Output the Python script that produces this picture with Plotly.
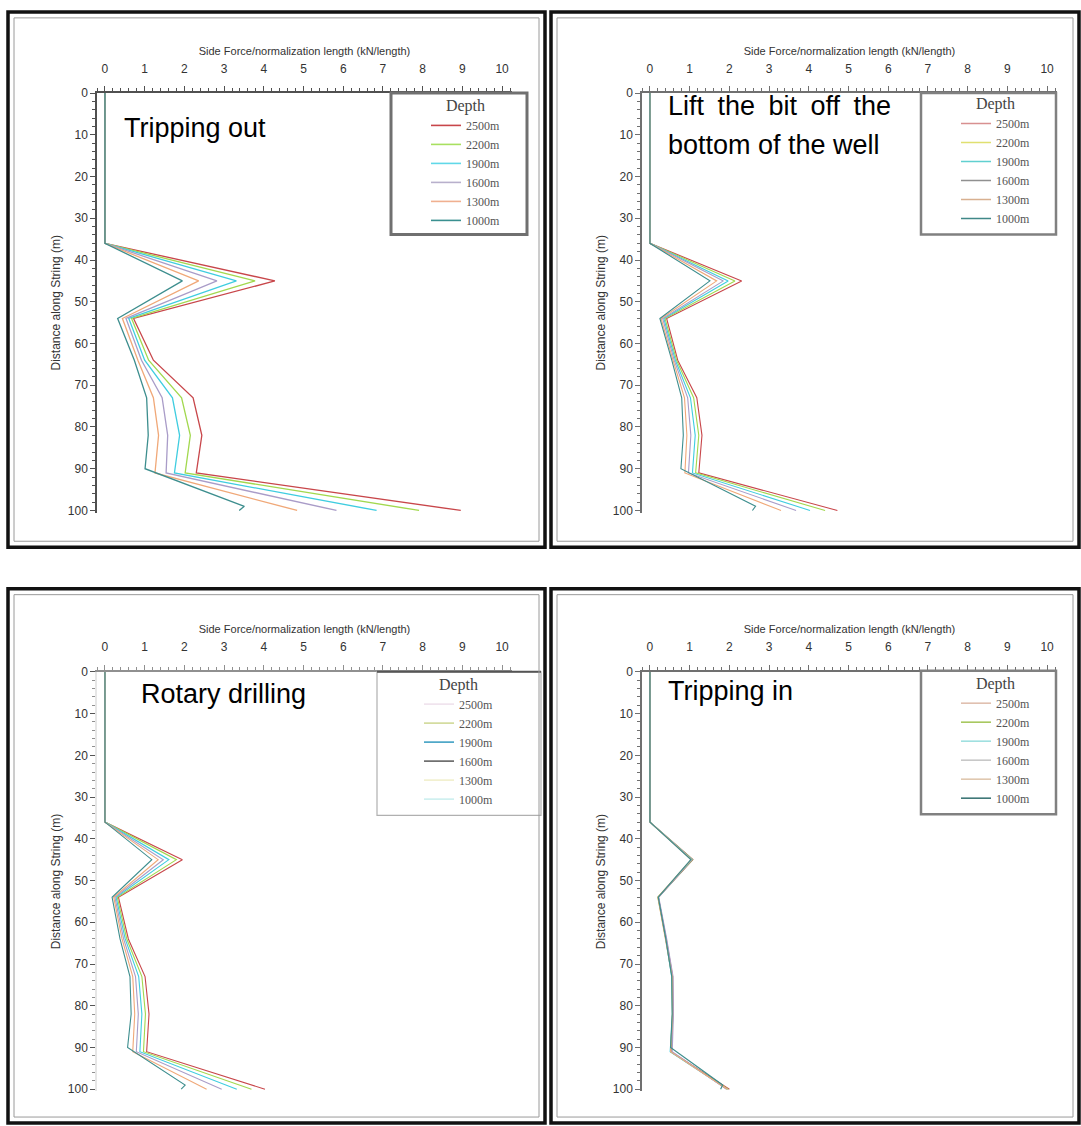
import plotly.graph_objects as go

W, H = 1081, 1126

# ---------------- data ----------------
DEPTH_LABELS = ["2500m", "2200m", "1900m", "1600m", "1300m", "1000m"]
X_TICKS = list(range(0, 11))
Y_TICKS = list(range(0, 101, 10))

# distance along string (m) of the polyline vertices
Y_MAIN = [0, 36, 45, 54, 64, 73, 82, 91, 100]
Y_HOOK = [0, 36, 45, 54, 64, 73, 82, 90, 99, 100]

# Tripping out
TRIP_OUT_2500 = [0, 0, 4.28, 0.72, 1.22, 2.22, 2.44, 2.30, 8.96]
TRIP_OUT_2200 = [0, 0, 3.78, 0.67, 1.10, 1.93, 2.15, 2.02, 7.91]
TRIP_OUT_1900 = [0, 0, 3.31, 0.60, 1.00, 1.70, 1.88, 1.75, 6.84]
TRIP_OUT_1600 = [0, 0, 2.82, 0.53, 0.92, 1.44, 1.58, 1.54, 5.83]
TRIP_OUT_1300 = [0, 0, 2.36, 0.44, 0.83, 1.22, 1.35, 1.26, 4.84]
TRIP_OUT_1000 = [0, 0, 1.95, 0.32, 0.74, 1.05, 1.09, 1.01, 3.51, 3.38]

# Lift the bit off the bottom of the well
LIFT_2500 = [0, 0, 2.31, 0.42, 0.70, 1.18, 1.31, 1.23, 4.72]
LIFT_2200 = [0, 0, 2.14, 0.38, 0.67, 1.10, 1.23, 1.15, 4.41]
LIFT_1900 = [0, 0, 1.97, 0.35, 0.64, 1.02, 1.14, 1.07, 4.03]
LIFT_1600 = [0, 0, 1.85, 0.32, 0.61, 0.95, 1.03, 0.97, 3.68]
LIFT_1300 = [0, 0, 1.68, 0.28, 0.58, 0.87, 0.93, 0.88, 3.30]
LIFT_1000 = [0, 0, 1.51, 0.25, 0.55, 0.80, 0.84, 0.78, 2.66, 2.58]

# Rotary drilling
ROTARY_2500 = [0, 0, 1.95, 0.34, 0.59, 1.01, 1.11, 1.05, 4.03]
ROTARY_2200 = [0, 0, 1.80, 0.31, 0.55, 0.93, 1.02, 0.97, 3.69]
ROTARY_1900 = [0, 0, 1.61, 0.28, 0.51, 0.85, 0.93, 0.88, 3.32]
ROTARY_1600 = [0, 0, 1.47, 0.25, 0.47, 0.77, 0.84, 0.79, 2.94]
ROTARY_1300 = [0, 0, 1.34, 0.22, 0.43, 0.70, 0.75, 0.70, 2.56]
ROTARY_1000 = [0, 0, 1.18, 0.18, 0.38, 0.63, 0.66, 0.57, 2.02, 1.92]

# Tripping in
TRIP_IN_2500 = [0, 0, 1.08, 0.21, 0.41, 0.57, 0.58, 0.53, 2.00]
TRIP_IN_2200 = [0, 0, 1.07, 0.20, 0.40, 0.56, 0.57, 0.52, 1.97]
TRIP_IN_1900 = [0, 0, 1.06, 0.21, 0.40, 0.55, 0.57, 0.51, 1.95]
TRIP_IN_1600 = [0, 0, 1.05, 0.22, 0.42, 0.58, 0.59, 0.56, 1.93]
TRIP_IN_1300 = [0, 0, 1.04, 0.20, 0.39, 0.56, 0.57, 0.52, 1.95]
TRIP_IN_1000 = [0, 0, 1.03, 0.21, 0.40, 0.55, 0.56, 0.52, 1.83, 1.78]

X_TITLE = "Side Force/normalization length (kN/length)"
Y_TITLE = "Distance along String (m)"

# ---------------- styles ----------------
LINE_COLORS = ["#c8464a", "#a2d84e", "#3fcde0", "#a99cc8", "#f0a878", "#3d8e8e"]

PANELS = [
    dict(series=[TRIP_OUT_2500, TRIP_OUT_2200, TRIP_OUT_1900, TRIP_OUT_1600, TRIP_OUT_1300, TRIP_OUT_1000],
         x0=97, y0=87, axcol="#505050", lw=1.3,
         leg_colors=["#c8464a", "#a8e060", "#60d8e8", "#b8b0cc", "#f0b090", "#3a9090"],
         leg_left=426, leg_top=84, box=(391, 87, 527, 230), boxcol="#707070", boxw=3,
         frame=(8, 5, 545, 546)),
    dict(series=[LIFT_2500, LIFT_2200, LIFT_1900, LIFT_1600, LIFT_1300, LIFT_1000],
         x0=642, y0=87, axcol="#707070", lw=1.1,
         leg_colors=["#d89090", "#e0e070", "#60d0d0", "#909090", "#d8b090", "#408888"],
         leg_left=956, leg_top=82, box=(921, 87, 1056, 230), boxcol="#808080", boxw=2.5,
         frame=(551, 5, 1079, 546)),
    dict(series=[ROTARY_2500, ROTARY_2200, ROTARY_1900, ROTARY_1600, ROTARY_1300, ROTARY_1000],
         x0=97, y0=672, axcol="#909090", lw=1.1,
         leg_colors=["#f0e4ee", "#d4dca0", "#50a8c8", "#707070", "#f2f0d0", "#d0f0f0"],
         leg_left=419, leg_top=669, box=(377, 672, 541, 817), boxcol="#b0b0b0", boxw=1.2,
         frame=(8, 588, 545, 1128)),
    dict(series=[TRIP_IN_2500, TRIP_IN_2200, TRIP_IN_1900, TRIP_IN_1600, TRIP_IN_1300, TRIP_IN_1000],
         x0=642, y0=672, axcol="#707070", lw=1.2,
         leg_colors=["#e0c0b0", "#a8c860", "#a0e0e0", "#c8c8c8", "#e0c8b0", "#407878"],
         leg_left=956, leg_top=668, box=(921, 671, 1056, 816), boxcol="#808080", boxw=2.5,
         frame=(551, 588, 1079, 1128)),
]

PLOT_W = 415   # px width of each axes box
PLOT_H = 424   # px height of each axes box
X_RANGE = [-0.2, 10.25]
Y_RANGE = [100.5, 0]


def px(xp):
    return xp / W


def py(yp):
    return 1 - yp / H


fig = go.Figure()
layout = dict(width=W, height=H, margin=dict(l=0, r=0, t=0, b=0),
              paper_bgcolor="white", plot_bgcolor="white", shapes=[], annotations=[])

for i, p in enumerate(PANELS):
    n = "" if i == 0 else str(i + 1)
    xa, ya = "x" + n, "y" + n
    leg = "legend" + n
    for k, (vals, lab) in enumerate(zip(p["series"], DEPTH_LABELS)):
        yv = Y_HOOK if len(vals) == len(Y_HOOK) else Y_MAIN
        fig.add_trace(go.Scatter(x=vals, y=yv, mode="lines", xaxis=xa, yaxis=ya,
                                 line=dict(color=LINE_COLORS[k], width=p["lw"]),
                                 showlegend=False, hoverinfo="skip"))
    for k, lab in enumerate(DEPTH_LABELS):
        fig.add_trace(go.Scatter(x=[None], y=[None], mode="lines", xaxis=xa, yaxis=ya,
                                 line=dict(color=p["leg_colors"][k], width=1.6),
                                 name=lab, legend=leg, showlegend=True, hoverinfo="skip"))

    axcol = p["axcol"]
    layout["xaxis" + n] = dict(
        domain=[px(p["x0"]), px(p["x0"] + PLOT_W)], range=X_RANGE, side="top",
        anchor=ya, tickvals=X_TICKS, showline=True, linecolor=axcol, linewidth=1.5,
        ticks="outside", ticklen=5, tickcolor=axcol, showgrid=False, zeroline=False,
        minor=dict(dtick=0.2, tick0=0, ticks="outside", ticklen=3, tickcolor=axcol),
        tickfont=dict(family="Arial, Liberation Sans", size=12, color="#333"),
        ticklabelstandoff=9,
        title=dict(text=X_TITLE, font=dict(family="Arial, Liberation Sans", size=11, color="#333"),
                   standoff=4))
    layout["yaxis" + n] = dict(
        domain=[py(p["y0"] + PLOT_H), py(p["y0"])], range=Y_RANGE, anchor=xa,
        tickvals=Y_TICKS, showline=True, linecolor=axcol if i != 2 else "#e6e6e6", linewidth=1.5,
        ticks="outside", ticklen=5, tickcolor=axcol if i != 2 else "#555", showgrid=False, zeroline=False,
        minor=dict(dtick=2, tick0=0, ticks="outside", ticklen=3, tickcolor=axcol),
        tickfont=dict(family="Arial, Liberation Sans", size=12, color="#333"),
        title=dict(text=Y_TITLE, font=dict(family="Arial, Liberation Sans", size=12, color="#333"),
                   standoff=5))
    layout[leg] = dict(
        x=px(p["leg_left"]), y=py(p["leg_top"]), xanchor="left", yanchor="top",
        bgcolor="rgba(0,0,0,0)", borderwidth=0, itemwidth=30,
        font=dict(family="Liberation Serif, Times New Roman, serif", size=12, color="#555"),
        title=dict(text="Depth", side="top center",
                   font=dict(family="Liberation Serif, Times New Roman, serif", size=16, color="#444")))

    # legend box
    bx0, by0, bx1, by1 = p["box"]
    layout["shapes"].append(dict(type="rect", xref="paper", yref="paper",
                                 x0=px(bx0), x1=px(bx1), y0=py(by1), y1=py(by0),
                                 line=dict(color=p["boxcol"], width=p["boxw"]), fillcolor="rgba(0,0,0,0)"))
    if i == 2:
        layout["shapes"].append(dict(type="line", xref="paper", yref="paper",
                                     x0=px(bx0), x1=px(bx1), y0=py(by0), y1=py(by0),
                                     line=dict(color="#555", width=2)))
    # panel frame (thick outer + thin inner)
    fx0, fy0, fx1, fy1 = p["frame"]
    layout["shapes"].append(dict(type="rect", xref="paper", yref="paper",
                                 x0=px(fx0), x1=px(fx1), y0=py(fy1), y1=py(fy0),
                                 line=dict(color="#111", width=3.5)))
    layout["shapes"].append(dict(type="rect", xref="paper", yref="paper",
                                 x0=px(fx0 + 6), x1=px(fx1 - 6), y0=py(fy1 - 6), y1=py(fy0 + 6),
                                 line=dict(color="#9a9a9a", width=1)))

TITLE_FONT = dict(family="Arial, Liberation Sans", size=27, color="#000")
SP = "\u2002"
PANEL_TEXTS = [
    ("Tripping out", 122, 122),
    ("Lift" + SP + "the" + SP + "bit" + SP + "off" + SP + "the", 666, 100),
    ("bottom of the well", 666, 139),
    ("Rotary drilling", 139, 694),
    ("Tripping in", 666, 691),
]
for txt, tx, ty in PANEL_TEXTS:
    layout["annotations"].append(dict(text=txt, xref="paper", yref="paper", x=px(tx), y=py(ty),
                                      xanchor="left", yanchor="middle", showarrow=False,
                                      font=TITLE_FONT))

fig.update_layout(**layout)
fig.write_html("out.html", config={"displayModeBar": False},
               post_script="document.body.style.margin='0';document.body.style.overflow='hidden';")
